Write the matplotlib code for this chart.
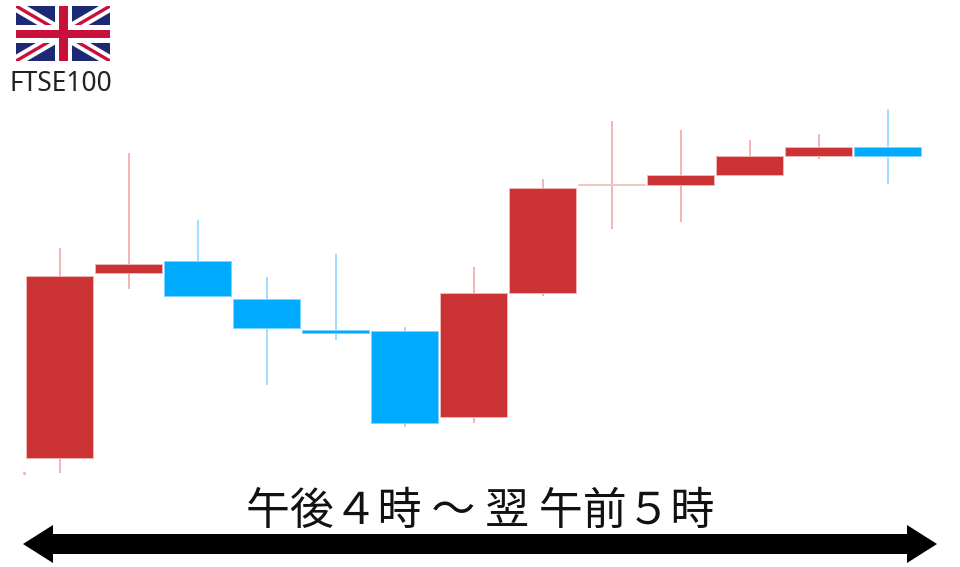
import matplotlib.pyplot as plt
from matplotlib.patches import Polygon, Rectangle

plt.rcParams['font.family'] = ['Noto Sans CJK JP', 'DejaVu Sans']

# arbitrary price units
opens = [22, 207, 219, 181, 150, 149, 63, 187, 295.5, 295, 305, 324.5, 324.5]
closes = [204, 216, 184, 152, 147, 57, 187, 292, 296.5, 305, 324.5, 333.5, 333.5]
highs = [232, 327, 260, 203, 226, 153, 213, 301, 359.5, 350.5, 340.5, 346.5, 371.5]
lows = [7, 191, 184, 95, 140, 53, 57, 184, 251, 258, 305, 321, 296]
is_red = [True, True, False, False, False, False, True, True, True, True, True, True, False]
is_pale = [False, False, False, False, False, False, False, False, True, False, False, False, False]

title = '午後４時 ～ 翌 午前５時'
index_name = 'FTSE100'

RED = '#cb3234'
BLUE = '#00aaff'

fig = plt.figure(figsize=(9.6, 5.67), dpi=100)
ax = fig.add_axes([0, 0, 1, 1])
ax.set_xlim(-59.5 / 69, 900.5 / 69)
ax.set_ylim(-87, 480)
ax.axis('off')

for i in range(len(opens)):
    body = RED if is_red[i] else BLUE
    wick = '#f0a0a0' if is_red[i] else '#88d4ff'
    edge = '#f3b5b5' if is_red[i] else '#80d4ff'
    if is_pale[i]:
        body = '#f3c6c6'
        edge = '#f3c6c6'
    ax.vlines(i, lows[i], highs[i], color=wick, linewidth=1.1, zorder=2)
    ax.bar(i, closes[i] - opens[i], bottom=opens[i], width=0.985, color=body,
           edgecolor=edge, linewidth=0.7, zorder=3)

# stray speck at bottom left of the original
ax.plot(-36 / 69, 7, marker='s', markersize=1.0, color='#f0a8a8')

# overlay in pixels for the decorations
deco = fig.add_axes([0, 0, 1, 1])
deco.set_xlim(0, 960)
deco.set_ylim(567, 0)
deco.axis('off')
deco.patch.set_alpha(0)

# arrow
deco.add_patch(Polygon([(23, 544), (53, 525), (53, 534), (907, 534), (907, 525), (937, 544),
                        (907, 563), (907, 554), (53, 554), (53, 563)], closed=True, color='black', lw=0))

deco.text(480, 511, title, fontsize=31.6, ha='center', va='center', color='#111111')
deco.text(61, 84, index_name, fontsize=19, ha='center', va='center', color='#222222',
          family=['Noto Sans', 'DejaVu Sans'])

# union jack
flag = fig.add_axes([16 / 960, 1 - 61 / 567, 94 / 960, 55 / 567])
flag.set_xlim(0, 94)
flag.set_ylim(55, 0)
flag.axis('off')
flag.add_patch(Rectangle((0, 0), 94, 55, color='#1d2a73', lw=0, zorder=1))
flag.plot([0, 94], [0, 55], color='white', lw=8, solid_capstyle='butt', zorder=2)
flag.plot([0, 94], [55, 0], color='white', lw=8, solid_capstyle='butt', zorder=2)
flag.plot([0, 94], [0, 55], color='#c8103a', lw=2.4, solid_capstyle='butt', zorder=3)
flag.plot([0, 94], [55, 0], color='#c8103a', lw=2.4, solid_capstyle='butt', zorder=3)
flag.add_patch(Rectangle((39, 0), 17, 55, color='white', lw=0, zorder=4))
flag.add_patch(Rectangle((0, 19), 94, 18, color='white', lw=0, zorder=4))
flag.add_patch(Rectangle((43, 0), 9, 55, color='#c8103a', lw=0, zorder=5))
flag.add_patch(Rectangle((0, 24), 94, 8, color='#c8103a', lw=0, zorder=5))

fig.savefig('out.png', dpi=100)
